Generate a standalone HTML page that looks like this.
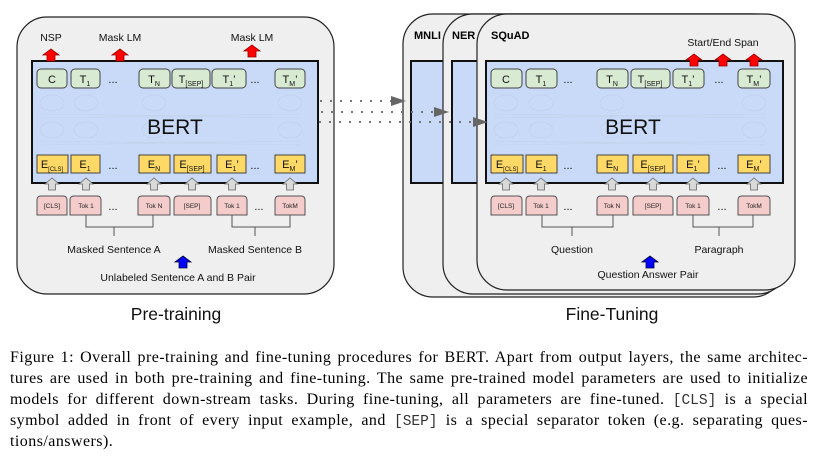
<!DOCTYPE html>
<html><head><meta charset="utf-8"><style>
body{margin:0;width:819px;height:465px;background:#fff;overflow:hidden;position:relative}
svg{position:absolute;left:0;top:0}
svg text{font-family:"Liberation Sans",sans-serif}
.cap{position:absolute;left:10px;width:798px;font-family:"Liberation Serif",serif;font-size:16px;letter-spacing:0.45px;line-height:21px;color:#000;top:347px}
.cap div{text-align:justify;text-align-last:justify;white-space:nowrap;height:21px}
.cap div.l{text-align-last:left}
.m{font-family:"Liberation Mono",monospace;font-size:14.5px;letter-spacing:0;color:#333}
</style></head><body>
<svg width="819" height="340" viewBox="0 0 819 340">
<defs>
<path id="ga" d="M-7 6 L0 0 L7 6 L3.5 6 L3.5 12 L-3.5 12 L-3.5 6 Z" fill="#d9d9d9" stroke="#666" stroke-width="0.8"/>
<path id="ra" d="M-8 6 L0 0 L8 6 L4 6 L4 12 L-4 12 L-4 6 Z" fill="#f00" stroke="#900" stroke-width="0.8"/>
<path id="ba" d="M-8 6 L0 0 L8 6 L4 6 L4 12 L-4 12 L-4 6 Z" fill="#00f" stroke="#003" stroke-width="0.8"/>
<g id="net" fill="none" stroke="#c2d0e8" stroke-width="0.7">
<ellipse cx="0" cy="0" rx="12" ry="8"/><ellipse cx="0" cy="27" rx="12" ry="8"/>
</g>
</defs>
<rect x="17" y="17" width="317" height="277" rx="30" fill="#efefef" stroke="#222" stroke-width="1.2"/>
<rect x="403" y="14" width="380" height="283" rx="30" fill="#efefef" stroke="#222" stroke-width="1.2"/>
<rect x="411" y="61" width="300" height="122" fill="#c9daf8" stroke="#111" stroke-width="2"/>
<rect x="443" y="14" width="345" height="280" rx="30" fill="#efefef" stroke="#222" stroke-width="1.2"/>
<rect x="452" y="61" width="300" height="122" fill="#c9daf8" stroke="#111" stroke-width="2"/>
<rect x="477" y="14" width="318" height="276" rx="30" fill="#efefef" stroke="#222" stroke-width="1.2"/>
<text x="414" y="39" font-size="11" font-weight="bold">MNLI</text>
<text x="452" y="39" font-size="11" font-weight="bold">NER</text>
<text x="491" y="39" font-size="11" font-weight="bold">SQuAD</text>

<rect x="32" y="61" width="286" height="122" fill="#c9daf8" stroke="#111" stroke-width="2"/>
<rect x="486" y="61" width="297" height="122" fill="#c9daf8" stroke="#111" stroke-width="2"/>
<g>
<use href="#net" x="52" y="103"/><use href="#net" x="86" y="103"/><use href="#net" x="154" y="103"/><use href="#net" x="290" y="103"/>
<use href="#net" x="506" y="103"/><use href="#net" x="541" y="103"/><use href="#net" x="612" y="103"/><use href="#net" x="754" y="103"/>
</g>
<g stroke="#c2d0e8" stroke-width="0.6">
<line x1="40" y1="118" x2="300" y2="114"/><line x1="40" y1="114" x2="300" y2="118"/>
<line x1="40" y1="145" x2="300" y2="141"/><line x1="40" y1="141" x2="300" y2="145"/>
<line x1="494" y1="118" x2="766" y2="114"/><line x1="494" y1="114" x2="766" y2="118"/>
<line x1="494" y1="145" x2="766" y2="141"/><line x1="494" y1="141" x2="766" y2="145"/>
</g>
<text x="175" y="134" font-size="21" text-anchor="middle" fill="#111">BERT</text>
<text x="633" y="134" font-size="21" text-anchor="middle" fill="#111">BERT</text>

<g fill="#d9ead3" stroke="#444" stroke-width="1">
<rect x="37" y="69" width="30" height="19" rx="4"/><rect x="71" y="69" width="29" height="19" rx="4"/>
<rect x="139" y="69" width="31" height="19" rx="4"/><rect x="172" y="69" width="38" height="19" rx="4"/>
<rect x="212" y="69" width="34" height="19" rx="4"/><rect x="275" y="69" width="30" height="19" rx="4"/>
<rect x="491" y="69" width="31" height="19" rx="4"/><rect x="526" y="69" width="31" height="19" rx="4"/>
<rect x="597" y="69" width="31" height="19" rx="4"/><rect x="631" y="69" width="39" height="19" rx="4"/>
<rect x="673" y="69" width="31" height="19" rx="4"/><rect x="738" y="69" width="32" height="19" rx="4"/>
</g>
<g fill="#ffd966" stroke="#444" stroke-width="1">
<rect x="37" y="155" width="31" height="18"/><rect x="71" y="155" width="29" height="18"/>
<rect x="139" y="155" width="31" height="18"/><rect x="174" y="155" width="37" height="18"/>
<rect x="217" y="155" width="29" height="18"/><rect x="275" y="155" width="30" height="18"/>
<rect x="491" y="155" width="32" height="18"/><rect x="526" y="155" width="31" height="18"/>
<rect x="597" y="155" width="31" height="18"/><rect x="633" y="155" width="40" height="18"/>
<rect x="677" y="155" width="32" height="18"/><rect x="738" y="155" width="32" height="18"/>
</g>
<g fill="#f4cccc" stroke="#555" stroke-width="1">
<path d="M37 215 V200 Q37 196 41 196 H63 Q67 196 67 200 V215 Z"/>
<path d="M70 215 V200 Q70 196 74 196 H97 Q101 196 101 200 V215 Z"/>
<path d="M138 215 V200 Q138 196 142 196 H166 Q170 196 170 200 V215 Z"/>
<path d="M174 215 V200 Q174 196 178 196 H207 Q211 196 211 200 V215 Z"/>
<path d="M217 215 V200 Q217 196 221 196 H243 Q247 196 247 200 V215 Z"/>
<path d="M275 215 V200 Q275 196 279 196 H301 Q305 196 305 200 V215 Z"/>
<path d="M491 215 V200 Q491 196 495 196 H518 Q522 196 522 200 V215 Z"/>
<path d="M526 215 V200 Q526 196 530 196 H553 Q557 196 557 200 V215 Z"/>
<path d="M597 215 V200 Q597 196 601 196 H624 Q628 196 628 200 V215 Z"/>
<path d="M633 215 V200 Q633 196 637 196 H669 Q673 196 673 200 V215 Z"/>
<path d="M677 215 V200 Q677 196 681 196 H705 Q709 196 709 200 V215 Z"/>
<path d="M738 215 V200 Q738 196 742 196 H766 Q770 196 770 200 V215 Z"/>
</g>
<g font-size="11" fill="#111" text-anchor="middle">
<text x="52" y="83">C</text><text x="85" y="83">T<tspan font-size="7" dy="3">1</tspan></text>
<text x="154" y="83">T<tspan font-size="7" dy="3">N</tspan></text><text x="191" y="83">T<tspan font-size="7" dy="3">[SEP]</tspan></text>
<text x="229" y="83">T<tspan font-size="7" dy="3">1</tspan><tspan dy="-3">’</tspan></text><text x="290" y="83">T<tspan font-size="7" dy="3">M</tspan><tspan dy="-3">’</tspan></text>
<text x="506" y="83">C</text><text x="541" y="83">T<tspan font-size="7" dy="3">1</tspan></text>
<text x="612" y="83">T<tspan font-size="7" dy="3">N</tspan></text><text x="650" y="83">T<tspan font-size="7" dy="3">[SEP]</tspan></text>
<text x="688" y="83">T<tspan font-size="7" dy="3">1</tspan><tspan dy="-3">’</tspan></text><text x="754" y="83">T<tspan font-size="7" dy="3">M</tspan><tspan dy="-3">’</tspan></text>
<text x="52" y="168">E<tspan font-size="6" dy="3">[CLS]</tspan></text><text x="85" y="168">E<tspan font-size="7" dy="3">1</tspan></text>
<text x="154" y="168">E<tspan font-size="7" dy="3">N</tspan></text><text x="192" y="168">E<tspan font-size="7" dy="3">[SEP]</tspan></text>
<text x="232" y="168">E<tspan font-size="7" dy="3">1</tspan><tspan dy="-3">’</tspan></text><text x="290" y="168">E<tspan font-size="7" dy="3">M</tspan><tspan dy="-3">’</tspan></text>
<text x="507" y="168">E<tspan font-size="6" dy="3">[CLS]</tspan></text><text x="541" y="168">E<tspan font-size="7" dy="3">1</tspan></text>
<text x="612" y="168">E<tspan font-size="7" dy="3">N</tspan></text><text x="653" y="168">E<tspan font-size="7" dy="3">[SEP]</tspan></text>
<text x="693" y="168">E<tspan font-size="7" dy="3">1</tspan><tspan dy="-3">’</tspan></text><text x="754" y="168">E<tspan font-size="7" dy="3">M</tspan><tspan dy="-3">’</tspan></text>
</g>
<g font-size="11" fill="#111" text-anchor="middle">
<text x="113" y="83">...</text><text x="255" y="83">...</text><text x="113" y="169">...</text><text x="255" y="169">...</text><text x="113" y="210">...</text><text x="259" y="210">...</text>
<text x="568" y="83">...</text><text x="719" y="83">...</text><text x="568" y="169">...</text><text x="722" y="169">...</text><text x="568" y="210">...</text><text x="722" y="210">...</text>
</g>
<g font-size="6.5" fill="#222" text-anchor="middle">
<text x="52" y="208">[CLS]</text><text x="86" y="208">Tok 1</text><text x="154" y="208">Tok N</text><text x="192" y="208">[SEP]</text><text x="232" y="208">Tok 1</text><text x="290" y="208">TokM</text>
<text x="506" y="208">[CLS]</text><text x="541" y="208">Tok 1</text><text x="612" y="208">Tok N</text><text x="653" y="208">[SEP]</text><text x="693" y="208">Tok 1</text><text x="754" y="208">TokM</text>
</g>
<g>
<use href="#ga" x="52" y="178"/><use href="#ga" x="86" y="178"/><use href="#ga" x="154" y="178"/><use href="#ga" x="192" y="178"/><use href="#ga" x="232" y="178"/><use href="#ga" x="290" y="178"/>
<use href="#ga" x="506" y="178"/><use href="#ga" x="541" y="178"/><use href="#ga" x="612" y="178"/><use href="#ga" x="653" y="178"/><use href="#ga" x="693" y="178"/><use href="#ga" x="754" y="178"/>
</g>
<use href="#ra" x="51" y="49"/><use href="#ra" x="120" y="49"/><use href="#ra" x="252" y="45"/>
<use href="#ra" x="694" y="54"/><use href="#ra" x="723" y="54"/><use href="#ra" x="754" y="54"/>
<use href="#ba" x="183" y="256"/><use href="#ba" x="650" y="256"/>
<g fill="none" stroke="#555" stroke-width="1">
<path d="M86 215 V227 H153 V215 M114 227 V236"/>
<path d="M232 215 V227 H290 V215 M255 227 V236"/>
<path d="M542 215 V227 H613 V215 M572 227 V236"/>
<path d="M693 215 V227 H753 V215 M719 227 V236"/>
</g>
<g font-size="10.5" fill="#111" text-anchor="middle">
<text x="51" y="41">NSP</text><text x="120" y="41">Mask LM</text><text x="252" y="41">Mask LM</text>
<text x="723" y="46">Start/End Span</text>
<text x="114" y="253">Masked Sentence A</text><text x="255" y="253">Masked Sentence B</text>
<text x="178" y="281">Unlabeled Sentence A and B Pair</text>
<text x="572" y="253">Question</text><text x="719" y="253">Paragraph</text>
<text x="648" y="278">Question Answer Pair</text>
</g>
<text x="176" y="320" font-size="17.5" text-anchor="middle" fill="#111">Pre-training</text>
<text x="612" y="320" font-size="17.5" text-anchor="middle" fill="#111">Fine-Tuning</text>
<g stroke="#777" stroke-width="2" stroke-dasharray="2 8" fill="none">
<line x1="320" y1="101" x2="393" y2="101"/><line x1="321" y1="112" x2="436" y2="112"/><line x1="319" y1="122" x2="475" y2="122"/>
</g>
<g fill="#666">
<path d="M391 96 L406 101 L391 106 Z"/><path d="M434 107 L449 112 L434 117 Z"/><path d="M473 117 L488 122 L473 127 Z"/>
</g>
</svg>
<div class="cap">
<div>Figure 1: Overall pre-training and fine-tuning procedures for BERT. Apart from output layers, the same architec-</div>
<div>tures are used in both pre-training and fine-tuning. The same pre-trained model parameters are used to initialize</div>
<div>models for different down-stream tasks. During fine-tuning, all parameters are fine-tuned. <span class="m">[CLS]</span> is a special</div>
<div>symbol added in front of every input example, and <span class="m">[SEP]</span> is a special separator token (e.g. separating ques-</div>
<div class="l">tions/answers).</div>
</div>
</body></html>
